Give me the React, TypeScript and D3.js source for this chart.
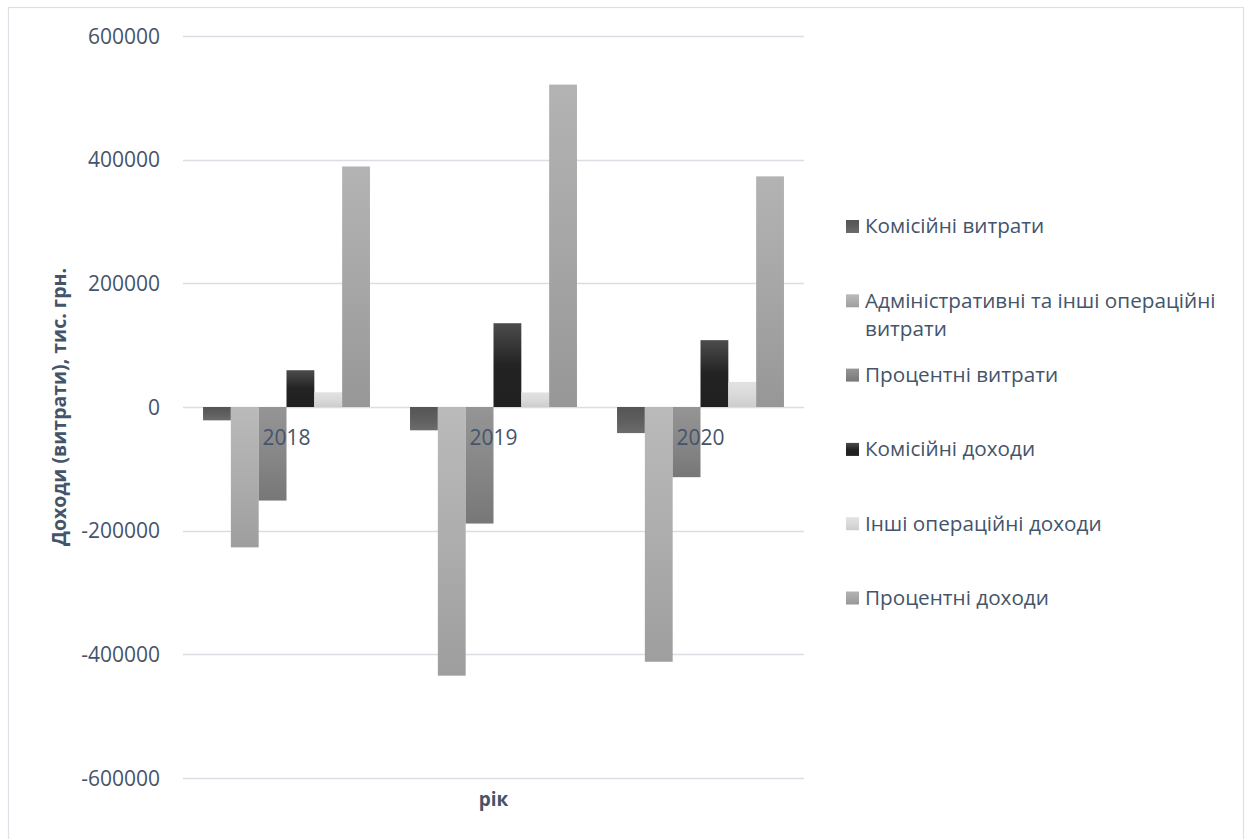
import React, { useEffect, useRef } from "react";
import * as d3 from "d3";

// Categories (years) and series, values in thousands UAH
const years = ["2018", "2019", "2020"];
const seriesNames = [
  "Комісійні витрати",
  "Адміністративні та інші операційні витрати",
  "Процентні витрати",
  "Комісійні доходи",
  "Інші операційні доходи",
  "Процентні доходи",
];
const commissionExpenses = [-21600, -37700, -42200];
const adminExpenses = [-227000, -434500, -412000];
const interestExpenses = [-151300, -188500, -113500];
const commissionIncome = [59500, 135500, 108100];
const otherIncome = [23800, 23600, 40500];
const interestIncome = [389000, 521400, 373000];
const yTicks = [600000, 400000, 200000, 0, -200000, -400000, -600000];

const seriesValues = [
  commissionExpenses,
  adminExpenses,
  interestExpenses,
  commissionIncome,
  otherIncome,
  interestIncome,
];

// vertical gradient stops (top -> bottom) for each series
const seriesFills: [string, string, string][] = [
  ["#555555", "#5e5e5e", "#6c6c6c"],
  ["#bababa", "#adadad", "#9e9e9e"],
  ["#959595", "#878787", "#777777"],
  ["#4c4c4c", "#232323", "#202020"],
  ["#e2e2e2", "#dadada", "#cdcdcd"],
  ["#b3b3b3", "#a6a6a6", "#979797"],
];

const W = 1248;
const H = 839;
const plot = { left: 183, right: 804, top: 36, bottom: 778 };
const textColor = "#44546a";
const gridColor = "#dadde3";
const font = "'Open Sans', 'Noto Sans', sans-serif";

export default function App() {
  const ref = useRef<SVGSVGElement | null>(null);

  useEffect(() => {
    const svg = d3.select(ref.current);
    svg.selectAll("*").remove();

    const defs = svg.append("defs");
    seriesFills.forEach((stops, i) => {
      const g = defs
        .append("linearGradient")
        .attr("id", `grad${i}`)
        .attr("x1", 0)
        .attr("y1", 0)
        .attr("x2", 0)
        .attr("y2", 1);
      g.append("stop").attr("offset", "0%").attr("stop-color", stops[0]);
      g.append("stop").attr("offset", "50%").attr("stop-color", stops[1]);
      g.append("stop").attr("offset", "100%").attr("stop-color", stops[2]);
    });

    // chart frame
    svg
      .append("rect")
      .attr("x", 8.5)
      .attr("y", 7.5)
      .attr("width", 1235)
      .attr("height", 845)
      .attr("fill", "white")
      .attr("stroke", "#dde0e6")
      .attr("stroke-width", 1.2);

    const y = d3
      .scaleLinear()
      .domain([-600000, 600000])
      .range([plot.bottom, plot.top]);
    const x0 = d3
      .scaleBand<string>()
      .domain(years)
      .range([plot.left, plot.right])
      .padding(0);
    const x1 = d3
      .scaleBand<string>()
      .domain(seriesNames)
      .range([0, x0.bandwidth()])
      .paddingInner(0)
      .paddingOuter(0.72);

    // gridlines
    svg
      .append("g")
      .selectAll("line")
      .data(yTicks)
      .join("line")
      .attr("x1", plot.left)
      .attr("x2", plot.right)
      .attr("y1", (d) => Math.round(y(d)) + 0.5)
      .attr("y2", (d) => Math.round(y(d)) + 0.5)
      .attr("stroke", gridColor)
      .attr("stroke-width", 1.4);

    // tick labels
    svg
      .append("g")
      .selectAll("text")
      .data(yTicks)
      .join("text")
      .attr("x", 160)
      .attr("y", (d) => y(d))
      .attr("dy", "0.36em")
      .attr("text-anchor", "end")
      .attr("font-family", font)
      .attr("font-size", 21)
      .attr("fill", textColor)
      .text((d) => String(d));

    // bars
    const groups = svg
      .append("g")
      .selectAll("g")
      .data(years)
      .join("g")
      .attr("transform", (d) => `translate(${x0(d)},0)`);

    groups
      .selectAll("rect")
      .data((_, yi) =>
        seriesNames.map((name, si) => ({ name, si, v: seriesValues[si][yi] }))
      )
      .join("rect")
      .attr("x", (d) => x1(d.name)!)
      .attr("width", x1.bandwidth())
      .attr("y", (d) => y(Math.max(0, d.v)))
      .attr("height", (d) => Math.abs(y(d.v) - y(0)))
      .attr("fill", (d) => `url(#grad${d.si})`);

    // category labels just below the zero line
    svg
      .append("g")
      .selectAll("text")
      .data(years)
      .join("text")
      .attr("x", (d) => x0(d)! + x0.bandwidth() / 2)
      .attr("y", y(0) + 38)
      .attr("text-anchor", "middle")
      .attr("font-family", font)
      .attr("font-size", 21)
      .attr("fill", textColor)
      .text((d) => d);

    // axis titles
    svg
      .append("text")
      .attr("x", (plot.left + plot.right) / 2)
      .attr("y", 806)
      .attr("text-anchor", "middle")
      .attr("font-family", font)
      .attr("font-weight", "bold")
      .attr("font-size", 19)
      .attr("fill", textColor)
      .text("рік");

    svg
      .append("text")
      .attr(
        "transform",
        `translate(66, ${(plot.top + plot.bottom) / 2}) rotate(-90)`
      )
      .attr("text-anchor", "middle")
      .attr("font-family", font)
      .attr("font-weight", "bold")
      .attr("font-size", 19.5)
      .attr("fill", textColor)
      .text("Доходи (витрати), тис. грн.");

    // legend
    const legendLines: string[][] = [
      ["Комісійні витрати"],
      ["Адміністративні та інші операційні", "витрати"],
      ["Процентні витрати"],
      ["Комісійні доходи"],
      ["Інші операційні доходи"],
      ["Процентні доходи"],
    ];
    const legend = svg
      .append("g")
      .selectAll("g")
      .data(seriesNames)
      .join("g")
      .attr("transform", (_, i) => `translate(846, ${226 + i * 74.3})`);
    legend
      .append("rect")
      .attr("x", 0)
      .attr("y", -6)
      .attr("width", 13)
      .attr("height", 13)
      .attr("fill", (_, i) => `url(#grad${i})`);
    legend.each(function (_, i) {
      const t = d3
        .select(this)
        .append("text")
        .attr("font-family", font)
        .attr("font-size", 20.7)
        .attr("fill", textColor);
      legendLines[i].forEach((line, li) => {
        t.append("tspan")
          .attr("x", 19)
          .attr("y", li * 28)
          .attr("dy", "0.36em")
          .text(line);
      });
    });
  }, []);

  return (
    <svg
      ref={ref}
      width={W}
      height={H}
      style={{ position: "absolute", left: 0, top: 0, display: "block" }}
    />
  );
}
